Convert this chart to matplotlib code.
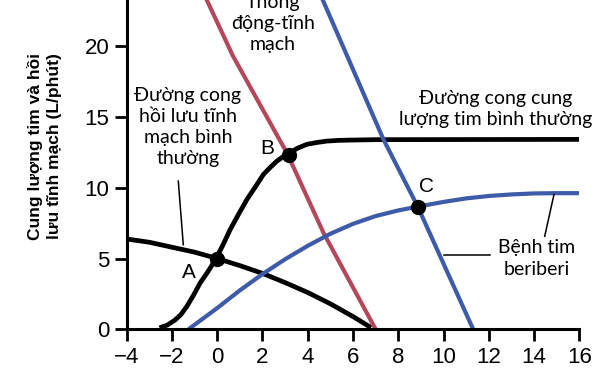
import matplotlib
matplotlib.use("Agg")
import matplotlib.pyplot as plt

# normal venous return curve
vr_x = [-4, -3, -2, -1, 0, 1, 2, 3, 4, 5, 6, 6.8]
vr_y = [6.38, 6.15, 5.8, 5.45, 5.0, 4.5, 3.95, 3.3, 2.6, 1.8, 0.9, 0.12]

# normal cardiac output curve
co_x = [-2.55, -2.2, -1.86, -1.6, -1.35, -1.05, -0.76, -0.4, -0.09, 0.25, 0.57, 0.95,
        1.31, 1.7, 2.04, 2.35, 2.64, 2.93, 3.22, 3.55, 3.96, 4.4, 4.85, 5.35, 5.88, 7, 16]
co_y = [0.1, 0.3, 0.66, 1.05, 1.6, 2.4, 3.26, 4.1, 4.9, 5.95, 7.04, 8.15,
        9.17, 10.1, 10.94, 11.45, 11.89, 12.22, 12.48, 12.8, 13.07, 13.2, 13.3, 13.35, 13.37, 13.4, 13.42]

# AV fistula venous return
avf_x = [-0.5, 0.7, 3.1, 4.7, 7.0]
avf_y = [23.4, 19.3, 12.4, 6.8, 0.0]

# beriberi venous return
bvr_x = [4.63, 7.35, 8.86, 11.31]
bvr_y = [23.4, 13.4, 8.67, 0.0]

# beriberi cardiac output
bco_x = [-1.27, 0, 1, 2, 3, 4, 5, 6, 7, 8, 8.86, 10, 11, 12, 13, 14, 15, 16]
bco_y = [0.0, 1.5, 2.75, 3.9, 4.95, 5.9, 6.75, 7.45, 8.0, 8.4, 8.67, 9.0, 9.25, 9.42, 9.53, 9.6, 9.62, 9.62]

pts_x = [0, 3.15, 8.86]
pts_y = [5.0, 12.35, 8.67]

red = "#b5475a"
blue = "#3d5ba9"

fig = plt.figure(figsize=(6.1, 3.75), dpi=100)
ax = fig.add_axes([0.2077, 0.1219, 0.742, 0.8781])

ax.plot(vr_x, vr_y, color="black", lw=3.4, solid_capstyle="butt")
ax.plot(co_x, co_y, color="black", lw=3.4, solid_capstyle="butt", solid_joinstyle="round")
ax.plot(avf_x, avf_y, color=red, lw=3.0, solid_capstyle="butt")
ax.plot(bvr_x, bvr_y, color=blue, lw=3.0, solid_capstyle="butt")
ax.plot(bco_x, bco_y, color=blue, lw=3.0, solid_capstyle="butt", solid_joinstyle="round")
ax.plot(pts_x, pts_y, "o", color="black", ms=10, zorder=5)

# leader lines
ax.plot([-1.72, -1.50], [10.47, 5.98], color="black", lw=1.1)
ax.plot([10.0, 12.07], [5.27, 5.27], color="black", lw=1.1)
ax.plot([14.88, 14.47], [9.52, 6.57], color="black", lw=1.1)

lf = dict(family="Liberation Sans", fontsize=15)
ax.text(-1.25, 4.0, "A", ha="center", va="center", **lf)
ax.text(2.2, 12.75, "B", ha="center", va="center", **lf)
ax.text(9.25, 10.1, "C", ha="center", va="center", **lf)

tf = dict(family="Lato", fontsize=14, linespacing=1.3, ha="center", va="center")
ax.text(-1.3, 14.3, "Đường cong\nhồi lưu tĩnh\nmạch bình\nthường", **tf)
ax.text(2.45, 21.6, "Thông\nđộng-tĩnh\nmạch", clip_on=False, **tf)
ax.text(12.3, 15.55, "Đường cong cung\nlượng tim bình thường", **tf)
ax.text(14.1, 5.0, "Bệnh tim\nberiberi", **tf)

ax.set_xlim(-4, 16)
ax.set_ylim(0, 23.27)
ax.set_xticks(range(-4, 17, 2))
ax.set_yticks([0, 5, 10, 15, 20])
ax.set_xticklabels(["\u2212" + str(-v) if v < 0 else str(v) for v in range(-4, 17, 2)])
for s in ["top", "right"]:
    ax.spines[s].set_visible(False)
for s in ["left", "bottom"]:
    ax.spines[s].set_linewidth(2.2)
ax.tick_params(axis="both", direction="out", length=8.5, width=2, labelsize=16, color="black")
ax.tick_params(axis="x", pad=4)
ax.tick_params(axis="y", pad=4)
for lab in ax.get_xticklabels() + ax.get_yticklabels():
    lab.set_family("Liberation Sans")

fig.text(0.073, 0.609, "Cung lượng tim và hồi\nlưu tĩnh mạch (L/phút)", rotation=90,
         ha="center", va="center", multialignment="right", family="Liberation Sans",
         fontweight="bold", fontsize=12.5, linespacing=1.3)

fig.savefig("out.png", dpi=100)
